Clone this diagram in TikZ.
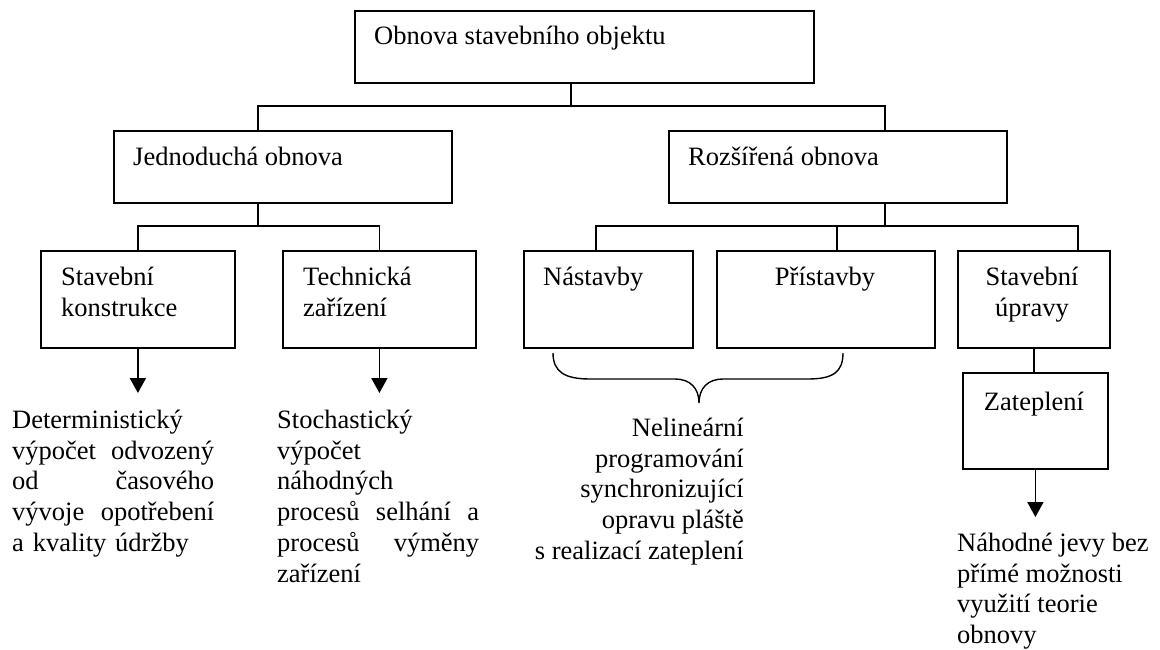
\documentclass[tikz,border=0pt]{standalone}
\usepackage{fontspec}
\setmainfont{Liberation Serif}
\usetikzlibrary{arrows.meta}
\setlength{\parindent}{0pt}
\newcommand{\myTopStrut}{\rule{0pt}{25pt}}
\begin{document}
\begin{tikzpicture}[x=1pt,y=-1pt,
  box/.style={draw, line width=1.8pt, rectangle, inner sep=0pt, anchor=north west},
  lbl/.style={inner sep=0pt, font=\fontsize{26.5}{30.8}\selectfont},
  conn/.style={line width=1.8pt},
  arr/.style={line width=1.8pt, -{Triangle[length=15pt,width=16pt]}},
]
\fill[white] (0,0) rectangle (1160,650);
\useasboundingbox (0,0) rectangle (1160,650);

% boxes
\node[box, minimum width=459pt, minimum height=72pt] (top) at (354,10) {};
\node[box, minimum width=338pt, minimum height=72pt] (jed) at (113,130) {};
\node[box, minimum width=338pt, minimum height=72pt] (roz) at (668,130) {};
\node[box, minimum width=194pt, minimum height=97pt] (stk) at (40,250) {};
\node[box, minimum width=193pt, minimum height=97pt] (tz) at (282,250) {};
\node[box, minimum width=169pt, minimum height=97pt] (nas) at (523,250) {};
\node[box, minimum width=218pt, minimum height=97pt] (pri) at (716,250) {};
\node[box, minimum width=152pt, minimum height=97pt] (su) at (957,250) {};
\node[box, minimum width=145pt, minimum height=96pt] (zat) at (962,372) {};

% box labels
\node[lbl, anchor=base west] (ttop) at (374,45) {Obnova stavebního objektu};
\node[lbl, anchor=base west] (tjed) at (133,166) {Jednoduchá obnova};
\node[lbl, anchor=base west] (troz) at (688,166) {Rozšířená obnova};
\node[lbl, anchor=north west, align=left] (tstk) at (61,260) {\myTopStrut Stavební\\konstrukce};
\node[lbl, anchor=north west, align=left] (ttz) at (303,260) {\myTopStrut Technická\\zařízení};
\node[lbl, anchor=base west] (tnas) at (543,285) {Nástavby};
\node[lbl, anchor=base] (tpri) at (825,285) {Přístavby};
\node[lbl, anchor=north, align=center] (tsu) at (1032,260) {\myTopStrut Stavební\\úpravy};
\node[lbl, anchor=base] (tzat) at (1034,410) {Zateplení};

% result texts
\node[lbl, anchor=north west, text width=202pt, align=left] (tdet) at (12,403)
  {\myTopStrut Deterministický\\výpočet\hfill odvozený\\od\hfill časového\\vývoje\hfill opotřebení\\a kvality údržby};
\node[lbl, anchor=north west, text width=202pt, align=left] (tsto) at (277,403)
  {\myTopStrut Stochastický\\výpočet\\náhodných\\procesů\hfill selhání\hfill a\\procesů\hfill výměny\\zařízení};
\node[lbl, anchor=north east, align=right] (tnel) at (744,411)
  {\myTopStrut Nelineární\\programování\\synchronizující\\opravu pláště\\s realizací zateplení};
\node[lbl, anchor=north west, align=left] (tnah) at (957,526)
  {\myTopStrut Náhodné jevy bez\\přímé možnosti\\využití teorie\\obnovy};

% connector coordinates
\coordinate (b0) at (571,106);
\coordinate (jstem) at (258,0);
\coordinate (rstem) at (885,0);
\coordinate (b1) at (258,226);
\coordinate (b2) at (885,226);
\coordinate (nstem) at (596,0);
\coordinate (pstem) at (837,0);
\coordinate (sstem) at (1078,0);
\coordinate (a1) at (0,393);
\coordinate (a3) at (0,517);

% tree connectors
\draw[conn] (top.south -| b0) -- (b0);
\draw[conn] (jed.north -| jstem) |- (b0) -| (roz.north -| rstem);
\draw[conn] (jed.south -| jstem) -- (b1);
\draw[conn] (stk.north) |- (b1) -| (tz.north);
\draw[conn] (roz.south -| rstem) -- (b2);
\draw[conn] (nas.north -| nstem) |- (b2) -| (su.north -| sstem);
\draw[conn] (pri.north -| pstem) -- (b2 -| pstem);
\draw[conn] (su.south) -- (su.south |- zat.north);

% arrows
\draw[arr] (stk.south) -- (stk.south |- a1);
\draw[arr] (tz.south) -- (tz.south |- a1);
\draw[arr] (zat.south) -- (zat.south |- a3);

% brace
\draw[line width=1.4pt] (553,353) .. controls (553,372) and (565,379) .. (590,379) -- (675,379)
  .. controls (690,379) and (699,388) .. (699,403)
  .. controls (699,388) and (708,379) .. (723,379) -- (808,379)
  .. controls (833,379) and (843,372) .. (843,353);
\end{tikzpicture}
\end{document}
